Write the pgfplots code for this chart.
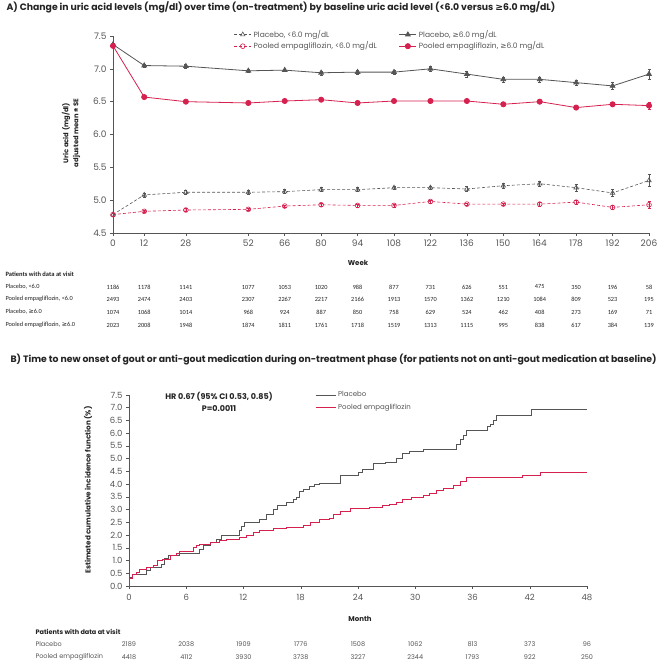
\documentclass[border=0pt]{standalone}
\usepackage{pgfplots}
\pgfplotsset{compat=1.18}
\usepackage{fontspec}
\setmainfont{Poppins}
\newfontfamily\tabfont{Carlito}
\newfontfamily\symfont{DejaVu Sans}
\newcommand{\GE}{{\symfont ≥}}
\definecolor{pbo}{RGB}{85,85,85}
\definecolor{empa}{RGB}{214,32,78}
\definecolor{txt}{RGB}{35,35,35}

\begin{document}
\begin{tikzpicture}[x=1pt,y=1pt]
\useasboundingbox (0,0) rectangle (661,662);

% ---------- panel A ----------
\node[anchor=west, text=txt, font=\bfseries\fontsize{9.3}{10}\selectfont] at (3,655)
  {A) Change in uric acid levels (mg/dl) over time (on-treatment) by baseline uric acid level (<6.0 versus \GE6.0 mg/dL)};

\begin{axis}[
    at={(113pt,429pt)}, anchor=south west,
    scale only axis, width=536pt, height=197pt,
    xmin=0, xmax=206, ymin=4.5, ymax=7.5,
    axis lines=left, axis line style={-, pbo, line width=0.6pt},
    clip=false,
    xtick={0,12,28,52,66,80,94,108,122,136,150,164,178,192,206},
    ytick={4.5,5,5.5,6,6.5,7,7.5},
    tick align=outside, major tick length=3pt,
    tick style={pbo, line width=0.5pt},
    xticklabel style={/pgf/number format/assume math mode=true},
    yticklabel style={/pgf/number format/assume math mode=true,
      /pgf/number format/fixed, /pgf/number format/fixed zerofill,
      /pgf/number format/precision=1},
    ticklabel style={font=\fontsize{9}{10}\selectfont, text=pbo},
    legend columns=2,
    legend style={at={(0.517,1.05)}, anchor=north, draw=none, fill=none,
      font=\fontsize{7.5}{8}\selectfont, text=pbo, row sep=-1pt,
      /tikz/every even column/.append style={column sep=20pt}},
    legend cell align=left,
    error bars/y dir=both, error bars/y explicit,
    error bars/error bar style={solid, line width=0.5pt},
    error bars/error mark options={rotate=90, mark size=1.5pt, solid},
  ]
\addplot[pbo, dash pattern=on 3pt off 2pt, line width=0.6pt,
    mark=triangle, mark options={solid, mark size=2.6pt}] coordinates {
  (0,4.78) +- (0,0.02)  (12,5.08) +- (0,0.03)  (28,5.12) +- (0,0.03)
  (52,5.12) +- (0,0.03) (66,5.13) +- (0,0.03)  (80,5.16) +- (0,0.03)
  (94,5.16) +- (0,0.03) (108,5.19) +- (0,0.03) (122,5.19) +- (0,0.03)
  (136,5.17) +- (0,0.04) (150,5.22) +- (0,0.04) (164,5.25) +- (0,0.04)
  (178,5.19) +- (0,0.05) (192,5.11) +- (0,0.05) (206,5.30) +- (0,0.09)
};
\addlegendentry{Placebo, <6.0 mg/dL}
\addplot[pbo, line width=0.8pt,
    mark=triangle*, mark options={solid, mark size=2.7pt}] coordinates {
  (0,7.37) +- (0,0.02)  (12,7.05) +- (0,0.02)  (28,7.04) +- (0,0.03)
  (52,6.97) +- (0,0.02) (66,6.98) +- (0,0.02)  (80,6.94) +- (0,0.03)
  (94,6.95) +- (0,0.03) (108,6.95) +- (0,0.03) (122,7.00) +- (0,0.04)
  (136,6.92) +- (0,0.04) (150,6.84) +- (0,0.04) (164,6.84) +- (0,0.04)
  (178,6.79) +- (0,0.04) (192,6.74) +- (0,0.05) (206,6.92) +- (0,0.08)
};
\addlegendentry{Placebo, \GE6.0 mg/dL}
\addplot[empa, dash pattern=on 3pt off 2pt, line width=0.6pt,
    mark=o, mark options={solid, mark size=2.4pt}] coordinates {
  (0,4.78) +- (0,0.02)  (12,4.83) +- (0,0.02)  (28,4.85) +- (0,0.02)
  (52,4.86) +- (0,0.02) (66,4.91) +- (0,0.02)  (80,4.93) +- (0,0.02)
  (94,4.92) +- (0,0.02) (108,4.92) +- (0,0.02) (122,4.98) +- (0,0.02)
  (136,4.94) +- (0,0.02) (150,4.94) +- (0,0.02) (164,4.94) +- (0,0.03)
  (178,4.97) +- (0,0.03) (192,4.89) +- (0,0.03) (206,4.93) +- (0,0.05)
};
\addlegendentry{Pooled empagliflozin, <6.0 mg/dL}
\addplot[empa, line width=0.8pt,
    mark=*, mark options={solid, mark size=2.6pt}] coordinates {
  (0,7.35) +- (0,0.02)  (12,6.57) +- (0,0.02)  (28,6.50) +- (0,0.02)
  (52,6.48) +- (0,0.02) (66,6.51) +- (0,0.02)  (80,6.53) +- (0,0.02)
  (94,6.48) +- (0,0.02) (108,6.51) +- (0,0.02) (122,6.51) +- (0,0.02)
  (136,6.51) +- (0,0.02) (150,6.46) +- (0,0.02) (164,6.50) +- (0,0.02)
  (178,6.41) +- (0,0.03) (192,6.46) +- (0,0.03) (206,6.44) +- (0,0.05)
};
\addlegendentry{Pooled empagliflozin, \GE6.0 mg/dL}
\end{axis}

\node[rotate=90, align=center, text=txt, font=\bfseries\fontsize{6.8}{10}\selectfont] at (71,529)
  {Uric acid (mg/dl)\\adjusted mean ± SE};
\node[text=txt, font=\bfseries\fontsize{7}{8}\selectfont] at (358,399) {Week};

\begin{scope}[font=\tabfont\fontsize{6.3}{7}\selectfont, text=txt]
\node[anchor=west, font=\tabfont\bfseries\fontsize{6.5}{7}\selectfont] at (2,388) {Patients with data at visit};
\node[anchor=west] at (2,375) {Placebo, <6.0};
\node[anchor=west] at (2,363) {Pooled empagliflozin, <6.0};
\node[anchor=west] at (2,350) {Placebo, \GE6.0};
\node[anchor=west] at (2,337) {Pooled empagliflozin, \GE6.0};
\foreach \w/\a/\b/\c/\d in {0/1186/2493/1074/2023, 12/1178/2474/1068/2008,
    28/1141/2403/1014/1948, 52/1077/2307/968/1874, 66/1053/2267/924/1811,
    80/1020/2217/887/1761, 94/988/2166/850/1718, 108/877/1913/758/1519,
    122/731/1570/629/1313, 136/626/1362/524/1115, 150/551/1210/462/995,
    164/475/1084/408/838, 178/350/809/273/617, 192/196/523/169/384,
    206/58/195/71/139}{
  \node at ({113+\w*2.60194},375) {\a};
  \node at ({113+\w*2.60194},363) {\b};
  \node at ({113+\w*2.60194},350) {\c};
  \node at ({113+\w*2.60194},337) {\d};
}
\end{scope}

% ---------- panel B ----------
\node[anchor=west, text=txt, font=\bfseries\fontsize{9.3}{10}\selectfont] at (7,302)
  {B) Time to new onset of gout or anti-gout medication during on-treatment phase (for patients not on anti-gout medication at baseline)};

\begin{axis}[
    at={(129pt,76pt)}, anchor=south west,
    scale only axis, width=458pt, height=191pt,
    xmin=0, xmax=48, ymin=0, ymax=7.5,
    axis lines=left, axis line style={-, pbo, line width=0.6pt},
    clip=false,
    xtick={0,6,...,48},
    ytick={0,0.5,...,7.5},
    tick align=outside, major tick length=3pt,
    tick style={pbo, line width=0.5pt},
    xticklabel style={/pgf/number format/assume math mode=true, yshift=-2pt},
    yticklabel style={/pgf/number format/assume math mode=true,
      /pgf/number format/fixed, /pgf/number format/fixed zerofill,
      /pgf/number format/precision=1},
    ticklabel style={font=\fontsize{8.5}{9}\selectfont, text=pbo},
    legend style={at={(0.40,1.04)}, anchor=north west, draw=none, fill=none,
      font=\fontsize{7}{8}\selectfont, text=pbo, row sep=2pt},
    legend cell align=left,
    legend image code/.code={\draw[#1] (0pt,0pt) -- (20pt,0pt);},
  ]
\addplot[pbo, line width=0.7pt, const plot] coordinates {
  (0,0) (0.02,0.35) (0.4,0.45) (1.8,0.60) (2.2,0.75) (3.4,0.85) (3.7,1.10)
  (4.1,1.20) (5.3,1.30) (7.4,1.45) (7.8,1.60) (8.5,1.70) (9.2,1.85) (9.7,2.00)
  (11.6,2.20) (11.8,2.35) (12.1,2.50) (13.7,2.60) (14.4,2.80) (15.1,3.00)
  (15.5,3.15) (16.5,3.30) (17.2,3.40) (17.5,3.50) (17.9,3.70) (18.3,3.80)
  (18.95,3.90) (19.4,4.00) (20.0,4.05) (22.1,4.35) (24.0,4.45) (24.5,4.60)
  (25.6,4.80) (26.9,4.85) (28.0,5.00) (28.6,5.20) (29.4,5.30) (30.8,5.35)
  (34.3,5.55) (34.7,5.75) (35.0,5.90) (35.4,6.10) (37.6,6.25) (37.9,6.35)
  (38.2,6.50) (38.5,6.70) (42.2,6.95) (48,6.95)
};
\addlegendentry{Placebo}
\addplot[empa, line width=0.7pt, const plot] coordinates {
  (0,0) (0.02,0.30) (0.4,0.45) (0.8,0.55) (1.1,0.65) (1.8,0.75) (2.5,0.80)
  (3.0,1.00) (3.5,1.05) (4.3,1.20) (5.0,1.30) (5.3,1.35) (6.7,1.50) (7.1,1.60)
  (7.4,1.65) (8.5,1.70) (9.5,1.80) (10.2,1.85) (11.6,1.90) (12.3,2.00)
  (13.0,2.10) (13.7,2.20) (15.1,2.25) (16.5,2.30) (18.3,2.40) (19.0,2.50)
  (20.0,2.60) (21.0,2.65) (21.4,2.80) (22.1,2.95) (23.2,3.05) (25.2,3.10)
  (26.6,3.15) (27.3,3.22) (28.0,3.30) (28.7,3.40) (29.6,3.50) (30.8,3.55)
  (31.5,3.65) (32.2,3.75) (32.9,3.85) (34.0,3.95) (34.7,4.10) (35.4,4.25)
  (41.2,4.35) (43.1,4.45) (48,4.45)
};
\addlegendentry{Pooled empagliflozin}
\end{axis}

\node[align=center, text=txt, font=\bfseries\fontsize{8}{12}\selectfont] at (219,260)
  {HR 0.67 (95\% CI 0.53, 0.85)\\P=0.0011};
\node[rotate=90, text=txt, font=\bfseries\fontsize{7.2}{8}\selectfont] at (88,172)
  {Estimated cumulative incidence function (\%)};
\node[text=txt, font=\bfseries\fontsize{7}{8}\selectfont] at (360,43) {Month};

\begin{scope}[font=\fontsize{6.5}{7}\selectfont, text=pbo]
\node[anchor=west, text=txt, font=\bfseries\fontsize{6.5}{7}\selectfont] at (32,30) {Patients with data at visit};
\node[anchor=west] at (32,18) {Placebo};
\node[anchor=west] at (32,5) {Pooled empagliflozin};
\foreach \m/\a/\b in {0/2189/4418, 6/2038/4112, 12/1909/3930, 18/1776/3738,
    24/1508/3227, 30/1062/2344, 36/813/1793, 42/373/922, 48/96/250}{
  \node at ({129+\m*9.5417},18) {\a};
  \node at ({129+\m*9.5417},5) {\b};
}
\end{scope}
\end{tikzpicture}
\end{document}
